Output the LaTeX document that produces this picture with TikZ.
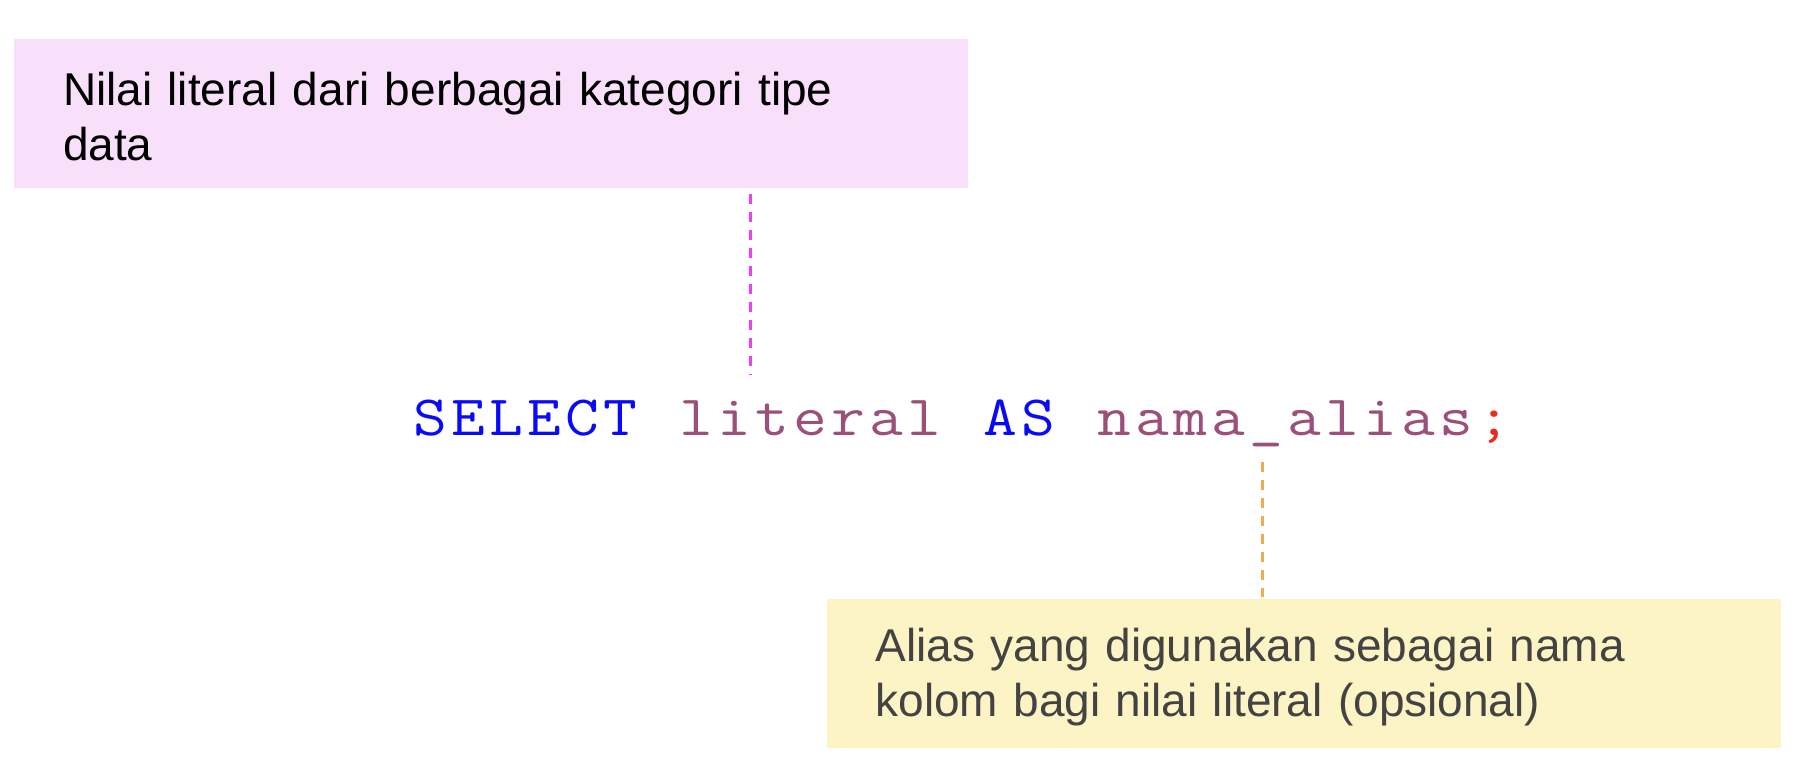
\documentclass[tikz,border=0pt]{standalone}
\usepackage{fontspec}
\setmainfont{Liberation Sans}
\usetikzlibrary{positioning}
\definecolor{notepink}{RGB}{249,224,250}
\definecolor{noteyellow}{RGB}{252,244,196}
\definecolor{pinkline}{RGB}{240,60,245}
\definecolor{orangeline}{RGB}{240,172,80}
\definecolor{kwblue}{RGB}{10,10,250}
\definecolor{idmauve}{RGB}{155,80,122}
\definecolor{semired}{RGB}{232,44,34}
\definecolor{notegray}{RGB}{67,67,67}
% one fixed cell per character, as in a code editor
\ExplSyntaxOn
\NewDocumentCommand{\codecells}{m}{\tl_map_inline:nn {#1} {\makebox[19pt]{\scalebox{1.15}[1]{##1}}}}
\ExplSyntaxOff
\newcommand{\codesp}{\hspace{19pt}}
\newcommand{\firstline}{\rule{0pt}{20pt}}

\begin{document}
\begin{tikzpicture}[x=0.5pt,y=-0.5pt,
  note/.style={minimum width=477pt,minimum height=74.5pt,inner xsep=24.5pt,inner ysep=0pt,
    text width=428pt,align=left,font=\fontsize{23}{27.5}\selectfont},
  pinknote/.style={note,fill=notepink,text=black},
  yellownote/.style={note,fill=noteyellow,text=notegray},
  codeline/.style={anchor=base west,inner sep=0pt,font=\ttfamily\fontsize{28.5}{32}\selectfont},
  leader/.style={line width=1.5pt,dash pattern=on 5pt off 4pt}]

 \useasboundingbox (0,0) rectangle (1808,776);

 \node[pinknote] (typenote) at (491,113.5) {\firstline Nilai literal dari berbagai kategori tipe\\data};

 \node[codeline] (sql) at (410.5,435)
  {{\color{kwblue}\codecells{SELECT}}\codesp{\color{idmauve}\codecells{literal}}\codesp
   {\color{kwblue}\codecells{AS}}\codesp{\color{idmauve}\codecells{nama\_alias}}{\color{semired}\codecells{;}}};

 \node[yellownote] (aliasnote) at (1303.5,673.5) {\firstline Alias yang digunakan sebagai nama\\kolom bagi nilai literal (opsional)};

 % leader lines to the statement
 \coordinate (literaltip) at (750,375);
 \coordinate (aliastip) at (1262,462);
 \draw[leader,draw=pinkline,shorten <=3pt] (typenote.south -| literaltip) -- (literaltip);
 \draw[leader,draw=orangeline,shorten >=1pt] (aliastip) -- (aliasnote.north -| aliastip);

\end{tikzpicture}
\end{document}
